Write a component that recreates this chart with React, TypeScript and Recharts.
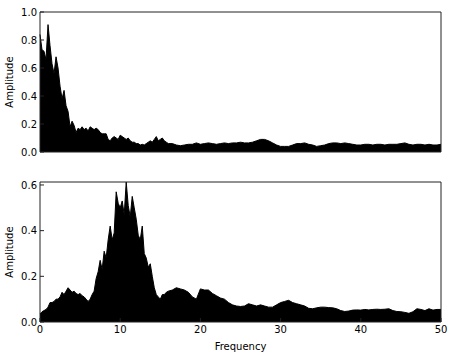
import { AreaChart, Area, XAxis, YAxis } from 'recharts';

// frequency grid (Hz): fine steps below 16 Hz, coarser above
const freqs = [
  0, 0.25, 0.5, 0.75, 1, 1.25, 1.5, 1.75, 2, 2.25, 2.5, 2.75, 3, 3.25, 3.5, 3.75,
  4, 4.25, 4.5, 4.75, 5, 5.25, 5.5, 5.75, 6, 6.25, 6.5, 6.75, 7, 7.25, 7.5, 7.75,
  8, 8.25, 8.5, 8.75, 9, 9.25, 9.5, 9.75, 10, 10.25, 10.5, 10.75, 11, 11.25, 11.5, 11.75,
  12, 12.25, 12.5, 12.75, 13, 13.25, 13.5, 13.75, 14, 14.25, 14.5, 14.75, 15, 15.25, 15.5, 15.75,
  16, 16.5, 17, 17.5, 18, 18.5, 19, 19.5, 20, 20.5, 21, 21.5, 22, 22.5, 23, 23.5,
  24, 24.5, 25, 25.5, 26, 26.5, 27, 27.5, 28, 28.5, 29, 29.5, 30, 30.5, 31, 31.5,
  32, 32.5, 33, 33.5, 34, 34.5, 35, 35.5, 36, 36.5, 37, 37.5, 38, 38.5, 39, 39.5,
  40, 40.5, 41, 41.5, 42, 42.5, 43, 43.5, 44, 44.5, 45, 45.5, 46, 46.5, 47, 47.5,
  48, 48.5, 49, 49.5, 50,
];

const topAmp = [
  0.84, 0.73, 0.72, 0.66, 0.91, 0.76, 0.63, 0.56, 0.68, 0.6, 0.47, 0.38, 0.44, 0.33, 0.29,
  0.18, 0.22, 0.19, 0.14, 0.17, 0.16, 0.18, 0.16, 0.17, 0.15, 0.18, 0.17, 0.16, 0.17, 0.16,
  0.14, 0.13, 0.13, 0.13, 0.09, 0.08, 0.1, 0.11, 0.1, 0.09, 0.12, 0.11, 0.1, 0.09, 0.1,
  0.08, 0.07, 0.07, 0.06, 0.06, 0.05, 0.055, 0.05, 0.06, 0.07, 0.08, 0.07, 0.09, 0.11, 0.08,
  0.09, 0.1, 0.08, 0.07, 0.06,
  0.06, 0.05, 0.045, 0.05, 0.055, 0.055, 0.065, 0.055, 0.06, 0.065,
  0.06, 0.055, 0.06, 0.065, 0.06, 0.065, 0.065, 0.07, 0.065, 0.065,
  0.07, 0.08, 0.09, 0.09, 0.08, 0.065, 0.05, 0.04, 0.04, 0.04,
  0.05, 0.06, 0.06, 0.065, 0.055, 0.05, 0.04, 0.045, 0.05, 0.06,
  0.065, 0.065, 0.06, 0.065, 0.06, 0.055, 0.05, 0.05, 0.055, 0.055,
  0.05, 0.055, 0.055, 0.05, 0.055, 0.055, 0.055, 0.06, 0.065, 0.055,
  0.05, 0.055, 0.055, 0.05, 0.055, 0.05, 0.05, 0.055,
];

const bottomAmp = [
  0.035, 0.045, 0.05, 0.055, 0.065, 0.085, 0.085, 0.09, 0.1, 0.1, 0.11, 0.13, 0.12, 0.135, 0.15,
  0.14, 0.13, 0.135, 0.125, 0.12, 0.125, 0.115, 0.11, 0.1, 0.09, 0.1, 0.12, 0.135, 0.19, 0.22,
  0.27, 0.23, 0.31, 0.28, 0.36, 0.42, 0.36, 0.39, 0.57, 0.52, 0.5, 0.53, 0.47, 0.613, 0.51,
  0.46, 0.55, 0.5, 0.45, 0.38, 0.36, 0.42, 0.3, 0.28, 0.24, 0.255, 0.2, 0.15, 0.12, 0.11,
  0.1, 0.12, 0.12, 0.13, 0.135,
  0.14, 0.15, 0.145, 0.14, 0.13, 0.11, 0.1, 0.145, 0.14, 0.14,
  0.125, 0.115, 0.105, 0.1, 0.085, 0.075, 0.07, 0.068, 0.07, 0.08,
  0.075, 0.07, 0.075, 0.07, 0.065, 0.065, 0.075, 0.085, 0.09, 0.095,
  0.085, 0.08, 0.075, 0.07, 0.06, 0.058, 0.062, 0.065, 0.065, 0.063,
  0.062, 0.058, 0.05, 0.046, 0.048, 0.052, 0.053, 0.052, 0.055, 0.053,
  0.055, 0.056, 0.055, 0.056, 0.058, 0.05, 0.046, 0.045, 0.042, 0.038,
  0.045, 0.058, 0.055, 0.05, 0.058, 0.052, 0.055, 0.055,
];

const xTicks = [0, 10, 20, 30, 40, 50];
const topYTicks = [0, 0.2, 0.4, 0.6, 0.8, 1.0];
const bottomYTicks = [0, 0.2, 0.4, 0.6];

const FONT = 'DejaVu Sans';
const AXIS = '#222';
const tickStyle = { fontSize: 10, fontFamily: FONT, fill: '#000' };

const AmpTitle = (props: any) => {
  const vb = props.viewBox;
  const cy = vb.y + vb.height / 2;
  return (
    <text
      x={13}
      y={cy}
      transform={`rotate(-90 13 ${cy})`}
      textAnchor="middle"
      fontSize={10}
      fontFamily={FONT}
      fill="#000"
    >
      Amplitude
    </text>
  );
};

const Panel = ({
  values,
  yMax,
  yTicks,
  height,
  showX,
}: {
  values: number[];
  yMax: number;
  yTicks: number[];
  height: number;
  showX: boolean;
}) => {
  const data = freqs.map((f, i) => ({ f, a: values[i] }));
  return (
    <AreaChart
      width={452}
      height={height}
      data={data}
      margin={{ top: 11, right: 10, left: 0, bottom: showX ? 5 : 17 }}
    >
      <XAxis
        dataKey="f"
        type="number"
        domain={[0, 50]}
        ticks={xTicks}
        height={showX ? 30 : 1}
        tick={showX ? tickStyle : false}
        tickSize={-4}
        tickMargin={8}
        tickFormatter={(v) => String(v)}
        stroke={AXIS}
        label={
          showX
            ? { value: 'Frequency', position: 'insideBottom', offset: 2, fontSize: 10, fontFamily: FONT, fill: '#000' }
            : undefined
        }
      />
      <XAxis
        xAxisId="top"
        orientation="top"
        dataKey="f"
        type="number"
        domain={[0, 50]}
        ticks={xTicks}
        height={1}
        tick={false}
        tickSize={-4}
        stroke={AXIS}
      />
      <YAxis
        type="number"
        domain={[0, yMax]}
        ticks={yTicks}
        width={40}
        tick={tickStyle}
        tickSize={-4}
        tickMargin={7}
        tickFormatter={(v) => v.toFixed(1)}
        stroke={AXIS}
        allowDataOverflow
        label={{ content: AmpTitle }}
      />
      <YAxis
        yAxisId="right"
        orientation="right"
        type="number"
        domain={[0, yMax]}
        ticks={yTicks}
        width={1}
        tick={false}
        tickSize={-4}
        stroke={AXIS}
      />
      <Area
        dataKey="a"
        type="linear"
        stroke="#000"
        strokeWidth={1}
        fill="#000"
        fillOpacity={1}
        dot={false}
        activeDot={false}
        isAnimationActive={false}
      />
    </AreaChart>
  );
};

export default function App() {
  return (
    <div style={{ position: 'absolute', left: 0, top: 0, width: 452, height: 357, background: '#fff' }}>
      <Panel values={topAmp} yMax={1.0} yTicks={topYTicks} height={170} showX={false} />
      <Panel values={bottomAmp} yMax={0.613} yTicks={bottomYTicks} height={187} showX={true} />
    </div>
  );
}
